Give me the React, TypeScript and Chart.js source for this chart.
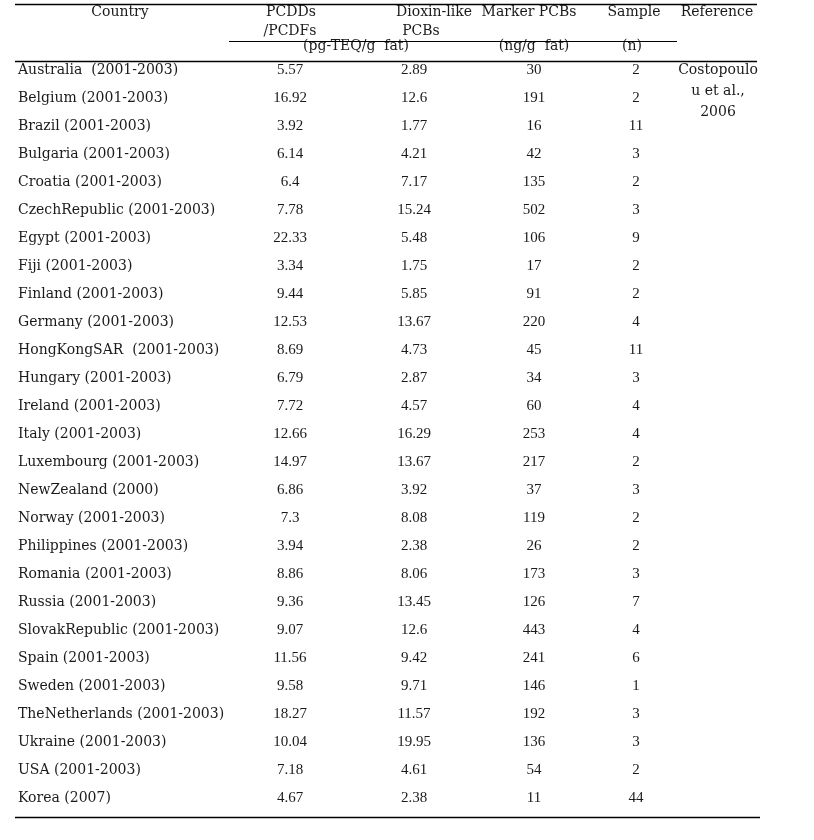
import React, { useEffect, useRef } from "react";
import { Chart, registerables } from "chart.js";

Chart.register(...registerables);

const countries = [
  "Australia  (2001-2003)", "Belgium (2001-2003)", "Brazil (2001-2003)", "Bulgaria (2001-2003)",
  "Croatia (2001-2003)", "CzechRepublic (2001-2003)", "Egypt (2001-2003)", "Fiji (2001-2003)",
  "Finland (2001-2003)", "Germany (2001-2003)", "HongKongSAR  (2001-2003)", "Hungary (2001-2003)",
  "Ireland (2001-2003)", "Italy (2001-2003)", "Luxembourg (2001-2003)", "NewZealand (2000)",
  "Norway (2001-2003)", "Philippines (2001-2003)", "Romania (2001-2003)", "Russia (2001-2003)",
  "SlovakRepublic (2001-2003)", "Spain (2001-2003)", "Sweden (2001-2003)", "TheNetherlands (2001-2003)",
  "Ukraine (2001-2003)", "USA (2001-2003)", "Korea (2007)",
];
const pcdds = [5.57, 16.92, 3.92, 6.14, 6.4, 7.78, 22.33, 3.34, 9.44, 12.53, 8.69, 6.79, 7.72, 12.66, 14.97, 6.86, 7.3, 3.94, 8.86, 9.36, 9.07, 11.56, 9.58, 18.27, 10.04, 7.18, 4.67];
const dioxinLike = [2.89, 12.6, 1.77, 4.21, 7.17, 15.24, 5.48, 1.75, 5.85, 13.67, 4.73, 2.87, 4.57, 16.29, 13.67, 3.92, 8.08, 2.38, 8.06, 13.45, 12.6, 9.42, 9.71, 11.57, 19.95, 4.61, 2.38];
const markerPcbs = [30, 191, 16, 42, 135, 502, 106, 17, 91, 220, 45, 34, 60, 253, 217, 37, 119, 26, 173, 126, 443, 241, 146, 192, 136, 54, 11];
const samples = [2, 2, 11, 3, 2, 3, 9, 2, 2, 4, 11, 3, 4, 4, 2, 3, 2, 2, 3, 7, 4, 6, 1, 3, 3, 2, 44];
const referenceLines = ["Costopoulo", "u et al.,", "2006"];

// header texts: [text, column x, row position]
const headerTexts: [string, number, number][] = [
  ["Country", 120, -2.07],
  ["PCDDs", 291, -2.07],
  ["/PCDFs", 290, -1.39],
  ["(pg-TEQ/g  fat)", 356, -0.86],
  ["Dioxin-like", 434, -2.07],
  ["PCBs", 421, -1.39],
  ["Marker PCBs", 529, -2.07],
  ["(ng/g  fat)", 534, -0.86],
  ["Sample", 634, -2.07],
  ["(n)", 632, -0.86],
  ["Reference", 717, -2.07],
];
// rules: [x start, x end, row position, width]
const rules: [number, number, number, number][] = [
  [15, 757, -2.37, 1.5],
  [229, 677, -1.05, 1.2],
  [15, 757, -0.32, 1.5],
  [15, 760, 26.68, 1.5],
];

const COL_COUNTRY = 18;
const COL_PCDD = 290;
const COL_DIOXIN = 414;
const COL_MARKER = 534;
const COL_SAMPLE = 636;
const COL_REF = 718;

const LABEL_FONT = '14px "DejaVu Serif"';
const NUM_FONT = '15px "Liberation Serif"';
const INK = "#1a1a1a";

const tablePlugin = {
  id: "tableText",
  afterDatasetsDraw(chart: any) {
    const ctx = chart.ctx;
    const xs = chart.scales.x;
    const ys = chart.scales.y;
    ctx.save();
    ctx.fillStyle = INK;
    ctx.textBaseline = "middle";
    chart.data.datasets.forEach((ds: any, di: number) => {
      const meta = chart.getDatasetMeta(di);
      ctx.font = ds.textFont;
      ctx.textAlign = ds.textAlign;
      meta.data.forEach((pt: any, j: number) => {
        ctx.fillText(String(ds.texts[j]), pt.x, pt.y);
      });
    });
    ctx.font = LABEL_FONT;
    ctx.textAlign = "center";
    headerTexts.forEach(([t, x, r]) => {
      ctx.fillText(t, xs.getPixelForValue(x), ys.getPixelForValue(r));
    });
    ctx.strokeStyle = "#000";
    rules.forEach(([x0, x1, r, w]) => {
      const y = Math.round(ys.getPixelForValue(r)) + 0.5;
      ctx.lineWidth = w;
      ctx.beginPath();
      ctx.moveTo(xs.getPixelForValue(x0), y);
      ctx.lineTo(xs.getPixelForValue(x1), y);
      ctx.stroke();
    });
    ctx.restore();
  },
};

export default function App() {
  const ref = useRef<HTMLCanvasElement | null>(null);
  useEffect(() => {
    document.body.style.margin = "0";
    if (!ref.current) return;
    const mk = (texts: (string | number)[], x: number, align: string, font: string, rowStep = 1) => ({
      data: texts.map((_, i) => ({ x, y: i * rowStep })),
      texts,
      textAlign: align,
      textFont: font,
      pointRadius: 0,
      showLine: false,
    });
    const chart = new Chart(ref.current, {
      type: "scatter",
      data: {
        datasets: [
          mk(countries, COL_COUNTRY, "left", LABEL_FONT),
          mk(pcdds, COL_PCDD, "center", NUM_FONT),
          mk(dioxinLike, COL_DIOXIN, "center", NUM_FONT),
          mk(markerPcbs, COL_MARKER, "center", NUM_FONT),
          mk(samples, COL_SAMPLE, "center", NUM_FONT),
          mk(referenceLines, COL_REF, "center", LABEL_FONT, 0.75),
        ] as any,
      },
      options: {
        animation: false,
        responsive: true,
        maintainAspectRatio: false,
        layout: { padding: 0 },
        events: [],
        plugins: { legend: { display: false }, tooltip: { enabled: false } },
        scales: {
          x: { type: "linear", min: 0, max: 814, display: false },
          y: { type: "linear", min: -2.5, max: 27.5, reverse: true, display: false },
        },
      },
      plugins: [tablePlugin],
    });
    return () => chart.destroy();
  }, []);
  return (
    <div style={{ width: 814, height: 840, position: "relative", background: "#fff" }}>
      <canvas ref={ref} />
    </div>
  );
}
